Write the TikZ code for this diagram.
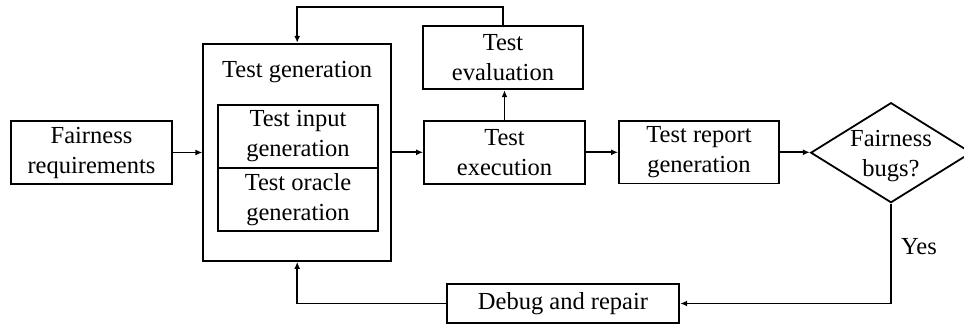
\documentclass[tikz,border=0pt]{standalone}
\usepackage{fontspec}
\setmainfont{Liberation Serif}
\usetikzlibrary{arrows.meta,shapes.geometric,calc}
\begin{document}
\begin{tikzpicture}[x=1pt,y=-1pt,
  every node/.style={font=\fontsize{24.5}{30}\selectfont},
  box/.style={draw,line width=1.8pt,rectangle,inner sep=0pt,align=center},
  conn/.style={line width=1.8pt,-{Latex[length=7pt,width=6pt]}}]
\useasboundingbox (0,0) rectangle (964,326);
\node[box,minimum width=161pt,minimum height=63.6pt] (fr) at (91.5,152.5) {Fairness\\requirements};
\node[box,minimum width=187.7pt,minimum height=217.3pt] (tg) at (297.2,152.35) {};
\node (tgt) at (297.2,71.7) {Test generation};
\node[box,minimum width=160.6pt,minimum height=63.6pt] (tin) at (298,136.5) {Test input\\generation};
\node[box,minimum width=160.6pt,minimum height=62.7pt] (tor) at (298,199.65) {Test oracle\\generation};
\node[box,minimum width=160.6pt,minimum height=63.6pt] (ev) at (503,57.5) {Test\\evaluation};
\node[box,minimum width=161pt,minimum height=63pt] (ex) at (504.5,152.3) {Test\\execution};
\node[box,minimum width=160pt,minimum height=62.3pt] (rep) at (699,152.3) {Test report\\generation};
\node[draw,line width=1.8pt,diamond,inner sep=0pt,minimum width=160.6pt,minimum height=100pt] (dia) at (891,152.7) {};
\node[align=center] (diat) at (891,156) {Fairness\\bugs?};
\node[box,minimum width=232.6pt,minimum height=38.4pt] (dbg) at (563,303.5) {Debug and repair};
\node (yes) at (919,247) {Yes};
\coordinate (topy) at (0,7.3);
\draw[conn] (fr.east) -- (fr.east -| tg.west);
\draw[conn] (ex.east -| tg.east) -- (ex.west);
\draw[conn] (ex.east) -- (rep.west);
\draw[conn] (rep.east) -- (rep.east -| dia.west);
\draw[conn] (ex.north) -- (ex.north |- ev.south);
\draw[conn] (ev.north) |- (tg.north |- topy) -- (tg.north);
\draw[conn] (dia.south) |- (dbg.east);
\draw[conn] (dbg.west) -| (tg.south);
\end{tikzpicture}
\end{document}
